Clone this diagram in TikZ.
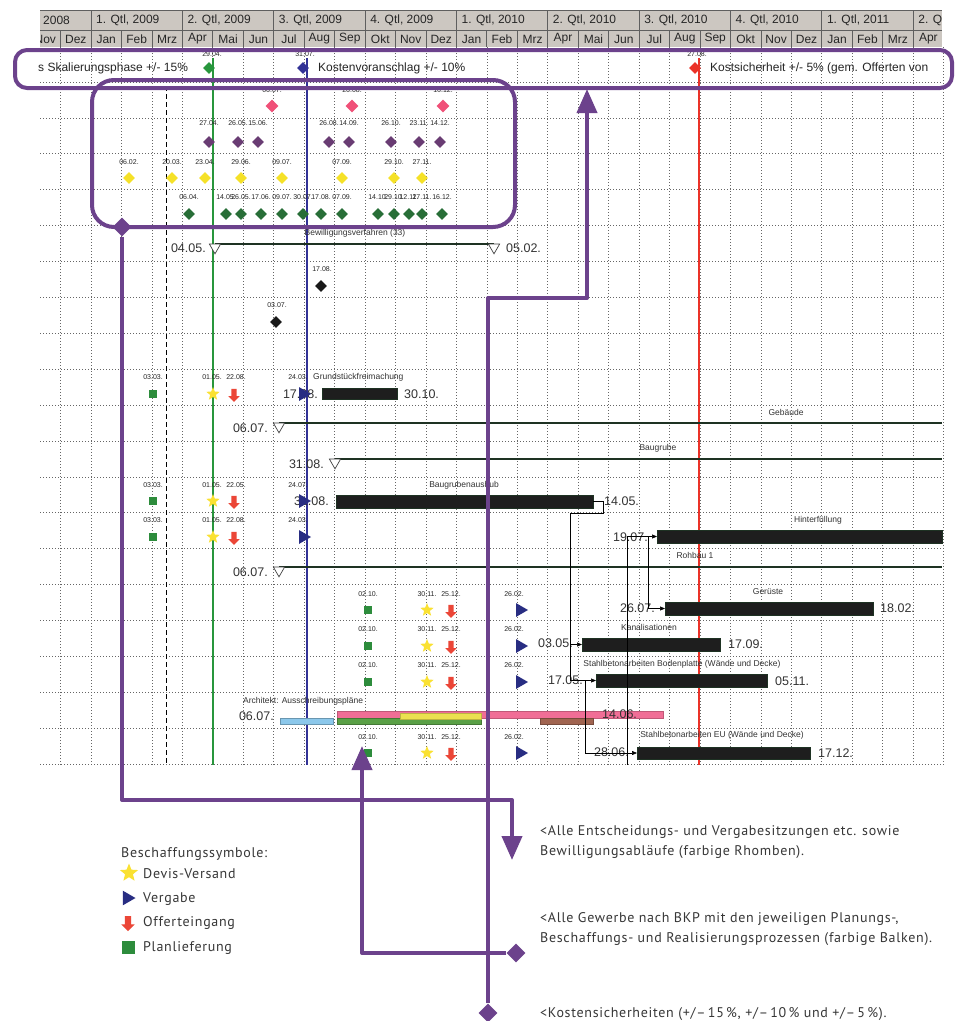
\documentclass[tikz,border=0pt]{standalone}
\usepackage{fontspec}
\setmainfont{Liberation Sans}
\newfontfamily\dinfont[LetterSpace=5]{PT Sans}
\usetikzlibrary{shapes.geometric,shapes.arrows,arrows.meta}
\definecolor{purp}{RGB}{108,66,140}
\definecolor{hdrgray}{RGB}{204,199,193}
\definecolor{hdrline}{RGB}{95,95,95}
\definecolor{lgreen}{RGB}{40,150,60}
\definecolor{lblue}{RGB}{50,50,150}
\definecolor{lred}{RGB}{235,50,40}
\definecolor{dpink}{RGB}{240,80,120}
\definecolor{dpurp}{RGB}{105,60,115}
\definecolor{dyel}{RGB}{245,225,40}
\definecolor{dgreen}{RGB}{40,110,55}
\definecolor{sqgreen}{RGB}{45,140,60}
\definecolor{styel}{RGB}{250,225,50}
\definecolor{arred}{RGB}{235,70,55}
\definecolor{trblue}{RGB}{40,45,130}
\definecolor{barblk}{RGB}{30,30,30}
\definecolor{sumdark}{RGB}{30,50,35}
\definecolor{abblue}{RGB}{140,200,235}
\definecolor{abpink}{RGB}{240,110,150}
\definecolor{abgreen}{RGB}{90,160,70}
\definecolor{abyel}{RGB}{235,225,80}
\definecolor{abbrown}{RGB}{160,100,80}
\definecolor{txtgray}{RGB}{55,55,55}
\begin{document}
\begin{tikzpicture}[x=1pt,y=-1pt,
  gridl/.style={draw=black!60,line width=0.7pt,dash pattern=on 0.9pt off 2.1pt},
  hdrtext/.style={font=\fontsize{12}{13}\selectfont,text=black!85,inner sep=0},
  dlab/.style={font=\fontsize{7}{8}\selectfont,text=black!85,inner sep=0},
  tlab/.style={font=\fontsize{8.5}{9}\selectfont,text=black!80,inner sep=0},
  blab/.style={font=\fontsize{12.5}{14}\selectfont,text=black!80,inner sep=0},
  bandtext/.style={font=\fontsize{12}{14}\selectfont,text=black!85,inner sep=0,anchor=west},
  dia/.style={diamond,inner sep=0,minimum size=12pt},
  barnode/.style={rectangle,fill=barblk,draw=sumdark,line width=0.4pt,inner sep=0,anchor=west},
  sumline/.style={draw=sumdark,line width=1.5pt},
  sumred/.style={draw=lred!80,line width=0.6pt,yshift=-1.5pt},
  sumtri/.style={regular polygon,regular polygon sides=3,shape border rotate=180,draw=black!75,fill=white,minimum size=13pt,inner sep=0,line width=0.7pt},
  vtri/.style={regular polygon,regular polygon sides=3,shape border rotate=-90,fill=trblue,minimum size=16pt,inner sep=0},
  starsym/.style={star,star points=5,star point ratio=2.3,fill=styel,minimum size=14pt,inner sep=0},
  offarrow/.style={single arrow,shape border rotate=270,fill=arred,minimum height=13pt,inner sep=2.5pt,single arrow head extend=3pt},
  plansq/.style={rectangle,fill=sqgreen,minimum size=8pt,inner sep=0},
  linkl/.style={draw=black,line width=0.6pt},
  linka/.style={linkl,-{Triangle[length=5pt,width=4pt]}},
  pline/.style={draw=purp,line width=4pt,line join=round},
  parrow/.style={pline,-{Triangle[length=24pt,width=20pt]}},
  pdia/.style={diamond,fill=purp,inner sep=0,minimum size=19pt},
  legtext/.style={font=\dinfont\fontsize{14}{20}\selectfont,text=txtgray,inner sep=0,anchor=base west,align=left},
]
\fill[white] (0,0) rectangle (971,1021);
\useasboundingbox (0,0) rectangle (971,1021);

% grid
\foreach \k in {0,...,19} \draw[gridl] (40,{82+35.9*\k}) -- (942,{82+35.9*\k});
\foreach \i in {-1,...,28} \draw[gridl] ({91+30.45*\i},47) -- ({91+30.45*\i},765);

% header
\begin{scope}
\clip (40,10) rectangle (942,47);
\fill[hdrgray] (40,10) rectangle (942,47);
\draw[hdrline,line width=0.8pt] (40,30) -- (942,30);
\draw[hdrline,line width=0.8pt] (40,10.4) -- (942,10.4);
\foreach \i in {-2,...,28} \draw[hdrline,line width=0.8pt] ({91+30.45*\i},30) -- ({91+30.45*\i},47);
\foreach \i in {-3,0,3,...,27} \draw[hdrline,line width=0.8pt] ({91+30.45*\i},10) -- ({91+30.45*\i},30);
\foreach \m [count=\c from -2] in {Nov,Dez,Jan,Feb,Mrz,Apr,Mai,Jun,Jul,Aug,Sep,Okt,Nov,Dez,Jan,Feb,Mrz,Apr,Mai,Jun,Jul,Aug,Sep,Okt,Nov,Dez,Jan,Feb,Mrz,Apr}
  \node[hdrtext] (m\c) at ({91+30.45*(\c+0.5)},39) {\m};
\node[hdrtext,anchor=west] (q08) at (43,20) {2008};
\foreach \q [count=\c from 0] in {{1. Qtl, 2009},{2. Qtl, 2009},{3. Qtl, 2009},{4. Qtl, 2009},{1. Qtl, 2010},{2. Qtl, 2010},{3. Qtl, 2010},{4. Qtl, 2010},{1. Qtl, 2011},{2. Q}}
  \node[hdrtext,anchor=west] (q\c) at ({91+91.35*\c+5},20) {\q};
\end{scope}

% milestone lines
\node[dlab] (ms1l) at (212,54) {29.04.};
\node[dlab] (ms2l) at (305,54) {31.07.};
\node[dlab] (ms3l) at (697,54) {27.08.};
\draw[lgreen,line width=1.5pt] (213,58) -- (213,765);
\draw[lblue,line width=1.5pt] (307,58) -- (307,765);
\draw[lred,line width=1.8pt] (699,58) -- (699,765);
\draw[black,line width=1pt,dash pattern=on 5pt off 3pt] (166,86) -- (166,765);
\node[dia,fill=lgreen] (ms1) at (209,68) {};
\node[dia,fill=lblue] (ms2) at (303,68) {};
\node[dia,fill=lred] (ms3) at (695,68) {};
\node[bandtext] (bt1) at (38,68) {s Skalierungsphase +/- 15\%};
\node[bandtext] (bt2) at (318,68) {Kostenvoranschlag +/- 10\%};
\node[bandtext] (bt3) at (710,68) {Kostsicherheit +/- 5\% (gem. Offerten von};

% decision diamonds
\foreach \x/\t [count=\c] in {272/06.07.,352/26.08.,443/16.12.}
  {\node[dlab] (r0l\c) at (\x,90) {\t}; \node[dia,fill=dpink,minimum size=13pt] (r0d\c) at (\x,106) {};}
\foreach \x/\t [count=\c] in {209/27.04.,238/26.05.,258/15.06.,329/26.08.,349/14.09.,391/26.10.,419/23.11.,440/14.12.}
  {\node[dlab] (r1l\c) at (\x,123) {\t}; \node[dia,fill=dpurp] (r1d\c) at (\x,142) {};}
\foreach \x/\t [count=\c] in {129/06.02.,172/20.03.,205/23.04.,241/29.06.,282/09.07.,342/07.09.,394/29.10.,422/27.11.}
  {\node[dlab] (r2l\c) at (\x,162) {\t}; \node[dia,fill=dyel] (r2d\c) at (\x,178) {};}
\foreach \x/\t [count=\c] in {189/06.04.,226/14.05.,241/26.05.,261/17.06.,282/09.07.,303/30.07.,321/17.08.,342/07.09.,378/14.10.,394/29.10.,409/12.11.,422/27.11.,442/16.12.}
  {\node[dlab] (r3l\c) at (\x,197) {\t}; \node[dia,fill=dgreen] (r3d\c) at (\x,214) {};}

% Bewilligungsverfahren
\node[tlab] (bvL) at (355,233) {Bewilligungsverfahren (33)};
\coordinate (bvS) at (215,244);
\coordinate (bvE) at (494,244);
\draw[sumred] (bvS) -- (bvE);
\draw[sumline] (bvS) -- (bvE);
\node[sumtri] (bvA) at (215,247.3) {};
\node[sumtri] (bvB) at (494,247.3) {};
\node[blab,anchor=east] (bv1) at (206,248) {04.05.};
\node[blab,anchor=west] (bv2) at (506,248) {05.02.};
\node[dlab] (k1l) at (322,269) {17.08.};
\node[dia,fill=black!90] (k1) at (321,286) {};
\node[dlab] (k2l) at (277,305) {03.07.};
\node[dia,fill=black!90] (k2) at (276,322) {};

% big date labels that sit under procurement triangles
\node[blab,anchor=east] (gf1) at (318,394) {17.08.};
\node[blab,anchor=east] (bg1) at (329,501) {31.08.};

% procurement symbols rows 8, 11, 12
\foreach \ys/\yl/\da/\db [count=\c] in {394/377/22.08./24.03.,501/485/22.05./24.07.,537/520/22.08./24.03.}{
  \node[dlab] (pa\c-l1) at (153,\yl) {03.03.};
  \node[plansq] (pa\c-s) at (153,\ys) {};
  \node[dlab] (pa\c-l2) at (212,\yl) {01.05.};
  \node[starsym] (pa\c-st) at (213,\ys) {};
  \node[dlab] (pa\c-l3) at (236,\yl) {\da};
  \node[offarrow] (pa\c-ar) at (234,\ys) {};
  \node[dlab] (pa\c-l4) at (298,\yl) {\db};
  \node[vtri] (pa\c-tr) at (303,\ys) {};
}
% procurement symbols rows 14, 15, 16, 18
\foreach \ys/\yl [count=\c] in {610/594,646/629,682/665,753/737}{
  \node[dlab] (pb\c-l1) at (368,\yl) {02.10.};
  \node[plansq] (pb\c-s) at (368,\ys) {};
  \node[dlab] (pb\c-l2) at (427,\yl) {30.11.};
  \node[starsym] (pb\c-st) at (427,\ys) {};
  \node[dlab] (pb\c-l3) at (451,\yl) {25.12.};
  \node[offarrow] (pb\c-ar) at (451,\ys) {};
  \node[dlab] (pb\c-l4) at (514,\yl) {26.02.};
  \node[vtri] (pb\c-tr) at (520,\ys) {};
}

% Grundstueckfreimachung
\node[tlab,anchor=west] (gfL) at (313,377) {Grundstückfreimachung};
\node[barnode,minimum width=75pt,minimum height=11pt] (bGF) at (322,393.5) {};
\node[blab,anchor=west] (gf2) at (404,394) {30.10.};

% Gebaeude
\node[tlab] (geL) at (786,412) {Gebäude};
\coordinate (geS) at (279,423);
\coordinate (geE) at (942,423);
\draw[sumred] (geS) -- (geE);
\draw[sumline] (geS) -- (geE);
\node[sumtri] (geT) at (279,426.3) {};
\node[blab,anchor=east] (ge1) at (268,428) {06.07.};

% Baugrube
\node[tlab] (bgL) at (658,448) {Baugrube};
\coordinate (bgS) at (335,459);
\coordinate (bgE) at (942,459);
\draw[sumred] (bgS) -- (bgE);
\draw[sumline] (bgS) -- (bgE);
\node[sumtri] (bgT) at (335,462.3) {};
\node[blab,anchor=east] (bg0) at (324,464) {31.08.};

% Baugrubenaushub
\node[tlab] (baL) at (464,485) {Baugrubenaushub};
\node[barnode,minimum width=257pt,minimum height=13pt] (bBG) at (336,501.5) {};
\node[blab,anchor=west] (ba2) at (604,501) {14.05.};

% Hinterfuellung
\node[tlab] (hfL) at (818,520) {Hinterfüllung};
\node[barnode,minimum width=285pt,minimum height=13pt] (bHF) at (657,536.5) {};
\node[blab,anchor=east] (hf1) at (648,537) {19.07.};

% Rohbau 1
\node[tlab] (rbL) at (695,555) {Rohbau 1};
\coordinate (rbS) at (279,567);
\coordinate (rbE) at (942,567);
\draw[sumred] (rbS) -- (rbE);
\draw[sumline] (rbS) -- (rbE);
\node[sumtri] (rbT) at (279,570.3) {};
\node[blab,anchor=east] (rb1) at (268,572) {06.07.};

% Gerueste
\node[tlab] (grL) at (768,592) {Gerüste};
\node[barnode,minimum width=208pt,minimum height=13pt] (bGE) at (665,608.5) {};
\node[blab,anchor=east] (gr1) at (655,608) {26.07.};
\node[blab,anchor=west] (gr2) at (880,608) {18.02.};

% Kanalisationen
\node[tlab] (kaL) at (649,627) {Kanalisationen};
\node[barnode,minimum width=138pt,minimum height=13pt] (bKA) at (582,644.5) {};
\node[blab,anchor=east] (ka1) at (573,643) {03.05.};
\node[blab,anchor=west] (ka2) at (728,644) {17.09.};

% Bodenplatte
\node[tlab] (bpL) at (682,664) {Stahlbetonarbeiten Bodenplatte (Wände und Decke)};
\node[barnode,minimum width=171pt,minimum height=13pt] (bBP) at (596,680.5) {};
\node[blab,anchor=east] (bp1) at (583,680) {17.05.};
\node[blab,anchor=west] (bp2) at (775,681) {05.11.};

% Architekt
\node[tlab,anchor=west] (arL) at (243,701) {Architekt: Ausschreibungspläne};
\node[blab,anchor=east] (ar1) at (274,716) {06.07.};
\fill[abblue,draw=abblue!75!black,line width=0.4pt] (280,718) rectangle (333,724);
\fill[abpink,draw=abpink!80!black,line width=0.4pt] (337,711) rectangle (663,718);
\fill[abgreen,draw=abgreen!75!black,line width=0.4pt] (337,718.5) rectangle (481,724);
\fill[abyel,draw=abyel!80!black,line width=0.4pt] (400,713.5) rectangle (481,719);
\fill[abbrown,draw=abbrown!75!black,line width=0.4pt] (540,718) rectangle (593,724);
\node[blab,anchor=west] (ar2) at (602,714) {14.06.};

% EU
\node[tlab] (euL) at (722,735) {Stahlbetonarbeiten EU (Wände und Decke)};
\node[barnode,minimum width=173pt,minimum height=12pt] (bEU) at (637,753) {};
\node[blab,anchor=east] (eu1) at (629,752) {28.06.};
\node[blab,anchor=west] (eu2) at (818,753) {17.12.};

% links
\coordinate (j1) at (603,501.5);
\coordinate (j2) at (603,513);
\coordinate (j3) at (570,513);
\coordinate (j4) at (570,644.5);
\coordinate (j5) at (570,680.5);
\draw[linkl] (bBG.east) -- (j1) -- (j2) -- (j3) -- (j5);
\draw[linka] (j4) -- (bKA.west);
\draw[linka] (j5) -- (bBP.west);
\coordinate (j6) at (585,680.5);
\coordinate (j7) at (585,753);
\draw[linka] (j6) -- (j7) -- (bEU.west);
\coordinate (j8) at (627,536.5);
\coordinate (j9) at (627,765);
\draw[linka] (j8) -- (bHF.west);
\draw[linkl] (j8) -- (j9);
\coordinate (j10) at (648,536.5);
\coordinate (j11) at (648,608.5);
\draw[linka] (j10) -- (j11) -- (bGE.west);

% purple frames and pointers
\draw[pline,rounded corners=12pt] (15,50) rectangle (952,88);
\draw[pline,rounded corners=22pt] (92,80) rectangle (515,227);
\node[pdia] (dA) at (122,227) {};
\coordinate (a1) at (122,800);
\coordinate (a2) at (512,800);
\coordinate (a3) at (512,860);
\draw[parrow] (dA.south) -- (a1) -- (a2) -- (a3);
\node[pdia] (dB) at (516,953) {};
\coordinate (b1) at (362,953);
\coordinate (b2) at (362,746);
\draw[parrow] (dB.west) -- (b1) -- (b2);
\node[pdia] (dC) at (488,1013) {};
\coordinate (c1) at (488,298);
\coordinate (c2) at (587,298);
\coordinate (c3) at (587,89);
\draw[parrow] (dC.north) -- (c1) -- (c2) -- (c3);

% legend
\node[legtext] (lgT) at (121,857) {Beschaffungssymbole:};
\node[starsym,minimum size=19pt] (lg1) at (129,873) {};
\node[legtext] (lg1t) at (143,878) {Devis-Versand};
\node[vtri,minimum size=17pt] (lg2) at (127,898) {};
\node[legtext] (lg2t) at (143,902) {Vergabe};
\node[offarrow,minimum height=15pt,inner sep=3pt,single arrow head extend=3.5pt] (lg3) at (128,922) {};
\node[legtext] (lg3t) at (143,926) {Offerteingang};
\node[plansq,minimum size=13pt] (lg4) at (128,947) {};
\node[legtext] (lg4t) at (143,951) {Planlieferung};

% annotations
\node[legtext] (an1) at (540,855) {<Alle Entscheidungs- und Vergabesitzungen etc. sowie\\Bewilligungsabläufe (farbige Rhomben).};
\node[legtext] (an2) at (540,942) {<Alle Gewerbe nach BKP mit den jeweiligen Planungs-,\\Beschaffungs- und Realisierungsprozessen (farbige Balken).};
\node[legtext] (an3) at (540,1017) {<Kostensicherheiten (+/–\,15\,\%, +/–\,10\,\% und +/–\,5\,\%).};
\end{tikzpicture}
\end{document}
